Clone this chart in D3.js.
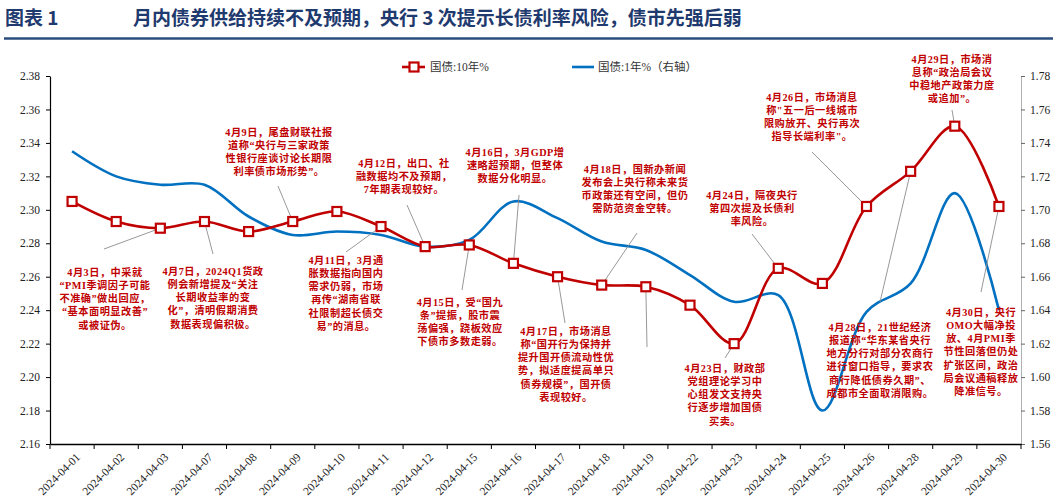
<!DOCTYPE html>
<html><head><meta charset="utf-8">
<script src="https://cdn.jsdelivr.net/npm/d3@7/dist/d3.min.js"></script>
<style>
html,body{margin:0;padding:0;background:#fff;}
svg{display:block;}
</style></head>
<body>
<svg id="c" width="1053" height="497"></svg>
<script>
// ---------- data ----------
const dates = ["2024-04-01","2024-04-02","2024-04-03","2024-04-07","2024-04-08","2024-04-09","2024-04-10","2024-04-11","2024-04-12","2024-04-15","2024-04-16","2024-04-17","2024-04-18","2024-04-19","2024-04-22","2024-04-23","2024-04-24","2024-04-25","2024-04-26","2024-04-28","2024-04-29","2024-04-30"];
const cgb10y = [2.305,2.293,2.289,2.293,2.287,2.293,2.299,2.290,2.278,2.279,2.268,2.260,2.255,2.254,2.243,2.220,2.265,2.256,2.302,2.323,2.350,2.302];
const cgb1y  = [1.735,1.720,1.715,1.715,1.696,1.685,1.687,1.685,1.678,1.682,1.705,1.695,1.681,1.676,1.661,1.645,1.649,1.580,1.639,1.656,1.710,1.640];
const leftTicks  = [2.16,2.18,2.20,2.22,2.24,2.26,2.28,2.30,2.32,2.34,2.36,2.38];
const rightTicks = [1.56,1.58,1.60,1.62,1.64,1.66,1.68,1.70,1.72,1.74,1.76,1.78];
const seriesNames = ["国债:10年%","国债:1年%（右轴）"];
const titleLabel = "图表 1";
const titleText = "月内债券供给持续不及预期，央行 3 次提示长债利率风险，债市先强后弱";

// annotation texts, keyed by date of the 10Y point they refer to
const noteDates = ["2024-04-03","2024-04-07","2024-04-09","2024-04-12","2024-04-11","2024-04-15","2024-04-16","2024-04-17","2024-04-18","2024-04-19","2024-04-23","2024-04-24","2024-04-26","2024-04-28","2024-04-29","2024-04-30"];
const noteTexts = [
 ["4月3日，中采就","“PMI季调因子可能","不准确”做出回应，","“基本面明显改善”","或被证伪。"],
 ["4月7日，2024Q1货政","例会新增提及“关注","长期收益率的变","化”，清明假期消费","数据表现偏积极。"],
 ["4月9日，尾盘财联社报","道称“央行与三家政策","性银行座谈讨论长期限","利率债市场形势”。"],
 ["4月12日，出口、社","融数据均不及预期，","7年期表现较好。"],
 ["4月11日，3月通","胀数据指向国内","需求仍弱，市场","再传“湖南省联","社限制超长债交","易”的消息。"],
 ["4月15日，受“国九","条”提振，股市震","荡偏强，跷板效应","下债市多数走弱。"],
 ["4月16日，3月GDP增","速略超预期，但整体","数据分化明显。"],
 ["4月17日，市场消息","称“国开行为保持并","提升国开债流动性优","势，拟适度提高单只","债券规模”，国开债","表现较好。"],
 ["4月18日，国新办新闻","发布会上央行称未来货","币政策还有空间，但仍","需防范资金空转。"],
 [],
 ["4月23日，财政部","党组理论学习中","心组发文支持央","行逐步增加国债","买卖。"],
 ["4月24日，隔夜央行","第四次提及长债利","率风险。"],
 ["4月26日，市场消息","称\"五一后一线城市","限购放开、央行再次","指导长端利率\"。"],
 ["4月28日，21世纪经济","报道称“华东某省央行","地方分行对部分农商行","进行窗口指导，要求农","商行降低债券久期”、","成都市全面取消限购。"],
 ["4月29日，市场消","息称“政治局会议","中稳地产政策力度","或追加”。"],
 ["4月30日，央行","OMO大幅净投","放、4月PMI季","节性回落但仍处","扩张区间，政治","局会议通稿释放","降准信号。"]
];
// layout of annotation boxes (text centre x, first line centre y, leader end x/y) — pixel layout only
const noteLayout = [
 {cx:105,ty:272,lx:104,ly:249},
 {cx:213,ty:271,lx:213,ly:254},
 {cx:279,ty:132,lx:278,ly:186},
 {cx:404,ty:163,lx:407,ly:205},
 {cx:346,ty:260,lx:346,ly:252},
 {cx:460,ty:302,lx:462,ly:290},
 {cx:515,ty:152,lx:519,ly:195},
 {cx:566,ty:331,lx:565,ly:323},
 {cx:635,ty:169,lx:637,ly:233},
 {cx:647,ty:0,lx:647,ly:347},
 {cx:725,ty:368,lx:725,ly:358},
 {cx:752,ty:195,lx:752,ly:234},
 {cx:812,ty:97,lx:812,ly:152},
 {cx:880,ty:327,lx:880,ly:302},
 {cx:952,ty:59,lx:952,ly:110},
 {cx:981,ty:312,lx:981,ly:292}
];

// ---------- drawing ----------
const RED = "#C00000", BLUE = "#0070C0", TITLE = "#1F3A6E";
const serifCJK = "'Liberation Serif','Noto Sans CJK SC',serif";
const svg = d3.select("#c");
const M = {l:50, r:1021, t:76, b:444};

const x = d3.scaleBand().domain(dates).range([M.l, M.r]).padding(0);
const yL = d3.scaleLinear().domain([2.16,2.38]).range([M.b, M.t]);
const yR = d3.scaleLinear().domain([1.56,1.78]).range([M.b, M.t]);
const cx = d => x(d) + x.bandwidth()/2;

// title
svg.append("text").attr("x",5).attr("y",25).attr("fill",TITLE)
  .attr("font-family","'Noto Sans CJK SC',sans-serif").attr("font-weight",700).attr("font-size",19)
  .text(titleLabel);
svg.append("text").attr("x",133).attr("y",25).attr("fill",TITLE)
  .attr("font-family","'Noto Sans CJK SC',sans-serif").attr("font-weight",700).attr("font-size",19)
  .text(titleText);
svg.append("line").attr("x1",4).attr("x2",1053).attr("y1",38.5).attr("y2",38.5)
  .attr("stroke","#2B4C7E").attr("stroke-width",2.5);

// left axis
const gL = svg.append("g").attr("transform",`translate(${M.l},0)`)
  .call(d3.axisLeft(yL).tickValues(leftTicks).tickFormat(d3.format(".2f")).tickSize(4).tickPadding(6).tickSizeOuter(0));
gL.select(".domain").attr("stroke","#000").attr("stroke-width",1.2);
gL.selectAll(".tick line").attr("stroke","#000");
gL.selectAll(".tick text").attr("font-family","'Liberation Serif',serif").attr("font-size",11.5).attr("fill","#222");

// right axis
const gR = svg.append("g").attr("transform",`translate(${M.r},0)`)
  .call(d3.axisRight(yR).tickValues(rightTicks).tickFormat(d3.format(".2f")).tickSize(4).tickPadding(5).tickSizeOuter(0));
gR.select(".domain").attr("stroke","#b0b0b0").attr("stroke-width",1);
gR.selectAll(".tick line").attr("stroke","#666");
gR.selectAll(".tick text").attr("font-family","'Liberation Serif',serif").attr("font-size",11.5).attr("fill","#222");

// bottom axis (labels from d3 axis, ticks at band boundaries)
const gB = svg.append("g").attr("transform",`translate(0,${M.b})`)
  .call(d3.axisBottom(x).tickSize(0).tickPadding(0));
gB.select(".domain").attr("stroke","#000").attr("stroke-width",1.5);
gB.selectAll(".tick text")
  .attr("font-family","'Liberation Serif',serif").attr("font-size",11.5).attr("fill","#222")
  .attr("text-anchor","end").attr("dy","0.35em")
  .attr("transform","translate(6,11) rotate(-45)");
gB.selectAll("line.bt").data(dates.concat(["__end"])).enter().append("line").attr("class","bt")
  .attr("x1",d => d==="__end" ? M.r : x(d)).attr("x2",d => d==="__end" ? M.r : x(d))
  .attr("y1",0).attr("y2",5).attr("stroke","#000");

// lines
const line10 = d3.line().x((d,i)=>cx(dates[i])).y(d=>yL(d)).curve(d3.curveCatmullRom.alpha(0.5));
const line1  = d3.line().x((d,i)=>cx(dates[i])).y(d=>yR(d)).curve(d3.curveCatmullRom.alpha(0.5));

svg.append("path").datum(cgb1y).attr("d",line1).attr("fill","none").attr("stroke",BLUE).attr("stroke-width",2.6);

// leader lines (drawn under the 10Y line markers)
const idxOf = d => dates.indexOf(d);
svg.append("g").selectAll("line").data(noteDates).enter().append("line")
  .attr("x1",(d,i)=>noteLayout[i].lx).attr("y1",(d,i)=>noteLayout[i].ly)
  .attr("x2",d=>cx(d)).attr("y2",d=>yL(cgb10y[idxOf(d)]))
  .attr("stroke","#8c8c8c").attr("stroke-width",0.9);

svg.append("path").datum(cgb10y).attr("d",line10).attr("fill","none").attr("stroke",RED).attr("stroke-width",2.6);
svg.append("g").selectAll("rect").data(cgb10y).enter().append("rect")
  .attr("x",(d,i)=>cx(dates[i])-4.5).attr("y",d=>yL(d)-4.5).attr("width",9).attr("height",9)
  .attr("fill","#fff").attr("stroke",RED).attr("stroke-width",2.2);

// annotations
const gN = svg.append("g");
noteTexts.forEach((lines,i)=>{
  const L = noteLayout[i];
  const t = gN.append("text").attr("text-anchor","middle").attr("fill",RED)
    .attr("font-family",serifCJK).attr("font-weight",700).attr("font-size",10.2)
    .attr("letter-spacing",0.5);
  lines.forEach((s,j)=>{
    t.append("tspan").attr("x",L.cx).attr("y",L.ty + j*13.3).attr("dy","0.35em").text(s);
  });
});

// legend
const lg = svg.append("g").attr("font-family",serifCJK).attr("font-size",11.5).attr("fill","#333");
lg.append("line").attr("x1",402).attr("x2",425).attr("y1",67).attr("y2",67).attr("stroke",RED).attr("stroke-width",2.6);
lg.append("rect").attr("x",409.5).attr("y",62.5).attr("width",9).attr("height",9).attr("fill","#fff").attr("stroke",RED).attr("stroke-width",2.2);
lg.append("text").attr("x",430).attr("y",67).attr("dy","0.35em").text(seriesNames[0]);
lg.append("line").attr("x1",572).attr("x2",594).attr("y1",67).attr("y2",67).attr("stroke",BLUE).attr("stroke-width",2.6);
lg.append("text").attr("x",598).attr("y",67).attr("dy","0.35em").text(seriesNames[1]);
</script>
</body></html>
